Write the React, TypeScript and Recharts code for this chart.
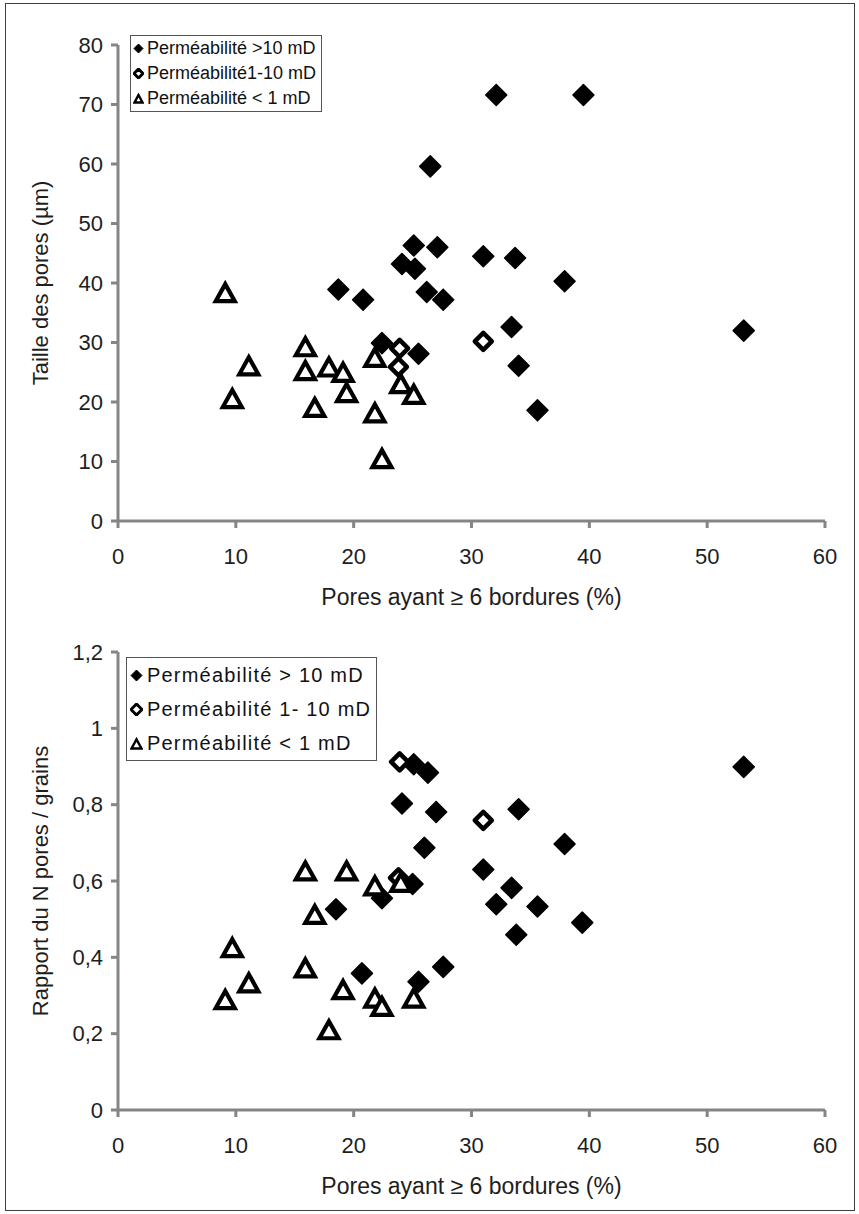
import { ScatterChart, Scatter, XAxis, YAxis, Legend } from "recharts";

// axes
const xTicks = [0, 10, 20, 30, 40, 50, 60];
const tailleTicks = [0, 10, 20, 30, 40, 50, 60, 70, 80];
const rapportTicks = [0, 0.2, 0.4, 0.6, 0.8, 1, 1.2];

// chart 1 : taille des pores (µm)
const t1HauteX = [32.1, 39.5, 26.5, 25.1, 27.1, 31.0, 33.7, 24.1, 25.2, 37.9, 18.7, 26.2, 20.8, 27.6, 33.4, 53.1, 22.4, 25.5, 34.0, 35.6];
const t1HauteY = [71.6, 71.6, 59.6, 46.3, 46.0, 44.5, 44.2, 43.2, 42.4, 40.3, 38.9, 38.5, 37.2, 37.2, 32.6, 32.0, 29.9, 28.1, 26.1, 18.6];
const t1MoyX = [31.0, 23.9, 23.8];
const t1MoyY = [30.2, 29.0, 25.9];
const t1BasseX = [9.1, 15.9, 11.1, 15.9, 17.9, 19.1, 21.8, 19.4, 9.7, 16.7, 24.0, 25.1, 21.8, 22.4];
const t1BasseY = [38.3, 29.2, 26.0, 25.2, 25.8, 24.9, 27.4, 21.5, 20.5, 19.0, 23.0, 21.2, 18.1, 10.4];

// chart 2 : rapport du N pores / grains
const t2HauteX = [25.1, 26.3, 24.1, 27.0, 26.0, 25.0, 22.4, 18.5, 20.7, 25.5, 27.6, 34.0, 37.9, 53.1, 31.0, 33.4, 32.1, 35.6, 33.8, 39.4];
const t2HauteY = [0.906, 0.884, 0.803, 0.781, 0.687, 0.592, 0.555, 0.526, 0.358, 0.336, 0.375, 0.788, 0.697, 0.899, 0.63, 0.582, 0.539, 0.533, 0.459, 0.491];
const t2MoyX = [23.9, 23.8, 31.0];
const t2MoyY = [0.912, 0.608, 0.759];
const t2BasseX = [15.9, 19.4, 21.8, 24.0, 16.7, 9.7, 15.9, 11.1, 9.1, 19.1, 21.8, 22.4, 25.1, 17.9];
const t2BasseY = [0.625, 0.625, 0.586, 0.595, 0.511, 0.424, 0.371, 0.332, 0.288, 0.314, 0.292, 0.27, 0.292, 0.209];

const zip = (xs: number[], ys: number[]) => xs.map((x, i) => ({ x, y: ys[i] }));

const axisColor = "#858585";
const textFont = '"Liberation Sans",Arial,sans-serif';
const tick = { fontFamily: textFont, fontSize: 22, fill: "#1e1e1e" };
const titleStyle = { fontFamily: textFont, fontSize: 23, fill: "#1e1e1e", textAnchor: "middle" as const };
const yTitleStyle = { ...titleStyle, fontSize: 22 };

function FilledDiamond(p: any) {
  const { cx, cy } = p;
  const r = 10.5;
  return <path d={`M${cx},${cy - r}L${cx + r},${cy}L${cx},${cy + r}L${cx - r},${cy}Z`} fill="#000" stroke="#000" strokeWidth={1.5} strokeLinejoin="round" />;
}

function HollowDiamond(p: any) {
  const { cx, cy } = p;
  const r = 8.5;
  return <path d={`M${cx},${cy - r}L${cx + r},${cy}L${cx},${cy + r}L${cx - r},${cy}Z`} fill="#fff" stroke="#000" strokeWidth={4.5} strokeLinejoin="round" />;
}

function Triangle(p: any) {
  const { cx, cy } = p;
  return <path d={`M${cx},${cy - 9}L${cx + 9.5},${cy + 8}L${cx - 9.5},${cy + 8}Z`} fill="#fff" stroke="#000" strokeWidth={4.2} strokeLinejoin="miter" />;
}

function LegendIcon({ kind, size, gap }: { kind: string; size: number; gap: number }) {
  const s = size;
  if (kind === "tri")
    return (
      <svg width={s} height={s} style={{ marginRight: gap, flex: "none" }}>
        <path d={`M${s / 2},${s * 0.18}L${s - 1.5},${s - 1.5}L1.5,${s - 1.5}Z`} fill="#fff" stroke="#000" strokeWidth={2.4} />
      </svg>
    );
  const hollow = kind === "hollow";
  return (
    <svg width={s} height={s} style={{ marginRight: gap, flex: "none" }}>
      <path d={`M${s / 2},1L${s - 1},${s / 2}L${s / 2},${s - 1}L1,${s / 2}Z`} fill={hollow ? "#fff" : "#000"} stroke="#000" strokeWidth={hollow ? 3 : 1} strokeLinejoin="round" />
    </svg>
  );
}

function LegendBox(props: { items: { label: string; kind: string }[]; fontSize: number; rowH: number; spacing: number; icon: number; gap: number; pad: string }) {
  const { items, fontSize, rowH, spacing, icon, gap, pad } = props;
  return (
    <div style={{ border: "1.5px solid #555", background: "#fff", padding: pad, fontFamily: textFont, fontSize, letterSpacing: spacing, color: "#111" }}>
      {items.map((it) => (
        <div key={it.label} style={{ display: "flex", alignItems: "center", height: rowH, whiteSpace: "pre" }}>
          <LegendIcon kind={it.kind} size={icon} gap={gap} />
          {it.label}
        </div>
      ))}
    </div>
  );
}

const legend1 = [
  { label: "Perméabilité >10 mD", kind: "filled" },
  { label: "Perméabilité1-10 mD", kind: "hollow" },
  { label: "Perméabilité < 1 mD", kind: "tri" },
];
const legend2 = [
  { label: "Perméabilité > 10 mD", kind: "filled" },
  { label: "Perméabilité 1- 10 mD", kind: "hollow" },
  { label: "Perméabilité < 1 mD", kind: "tri" },
];

const fmtRapport = (v: number) => (v === 0 || v === 1 ? String(v) : v.toFixed(1).replace(".", ","));

function Panel(props: any) {
  const { top, height, plotTop, plotH, yTicks, yDomain, yFmt, yTitle, haute, moy, basse, legend, legendPos, box } = props;
  const xAxisH = height - plotTop - plotH;
  return (
    <div style={{ position: "absolute", left: 0, top }}>
      <ScatterChart width={859} height={height} margin={{ top: plotTop, right: 34, bottom: 0, left: 0 }}>
        <XAxis
          type="number"
          dataKey="x"
          domain={[0, 60]}
          ticks={xTicks}
          interval={0}
          height={xAxisH}
          axisLine={{ stroke: axisColor, strokeWidth: 3 }}
          tickLine={{ stroke: axisColor, strokeWidth: 3 }}
          tickSize={7}
          tickMargin={20}
          tick={tick}
          label={{ value: "Pores ayant ≥ 6 bordures (%)", position: "insideBottom", offset: xAxisH - 84, style: titleStyle }}
        />
        <YAxis
          type="number"
          dataKey="y"
          domain={yDomain}
          ticks={yTicks}
          interval={0}
          width={118}
          tickFormatter={yFmt}
          axisLine={{ stroke: axisColor, strokeWidth: 3 }}
          tickLine={{ stroke: axisColor, strokeWidth: 3 }}
          tickSize={7}
          tickMargin={8}
          tick={tick}
          label={{ value: yTitle, angle: -90, position: "insideLeft", offset: 40, style: yTitleStyle }}
        />
        <Legend
          layout="vertical"
          align="center"
          verticalAlign="middle"
          wrapperStyle={{ left: legendPos[0], top: legendPos[1], width: "auto", height: "auto" }}
          content={() => <LegendBox items={legend} {...box} />}
        />
        <Scatter name={legend[0].label} data={haute} shape={FilledDiamond} isAnimationActive={false} />
        <Scatter name={legend[1].label} data={moy} shape={HollowDiamond} isAnimationActive={false} />
        <Scatter name={legend[2].label} data={basse} shape={Triangle} isAnimationActive={false} />
      </ScatterChart>
    </div>
  );
}

export default function App() {
  return (
    <div style={{ position: "absolute", left: 0, top: 0, width: 859, height: 1214, background: "#fff", overflow: "hidden" }}>
      <div style={{ position: "absolute", left: 5, top: 3, width: 848, height: 1206, border: "1.5px solid #404040" }} />
      <Panel
        top={0}
        height={620}
        plotTop={45}
        plotH={476}
        yTicks={tailleTicks}
        yDomain={[0, 80]}
        yFmt={(v: number) => String(v)}
        yTitle="Taille des pores (µm)"
        haute={zip(t1HauteX, t1HauteY)}
        moy={zip(t1MoyX, t1MoyY)}
        basse={zip(t1BasseX, t1BasseY)}
        legend={legend1}
        legendPos={[130, 35]}
        box={{ fontSize: 18, rowH: 25, spacing: 0, icon: 11, gap: 3, pad: "0 5px 0 2px" }}
      />
      <Panel
        top={607}
        height={607}
        plotTop={45}
        plotH={458}
        yTicks={rapportTicks}
        yDomain={[0, 1.2]}
        yFmt={fmtRapport}
        yTitle="Rapport du N pores / grains"
        haute={zip(t2HauteX, t2HauteY)}
        moy={zip(t2MoyX, t2MoyY)}
        basse={zip(t2BasseX, t2BasseY)}
        legend={legend2}
        legendPos={[126, 50]}
        box={{ fontSize: 20, rowH: 34, spacing: 1.2, icon: 13, gap: 4, pad: "0 5px 0 3px" }}
      />
    </div>
  );
}
